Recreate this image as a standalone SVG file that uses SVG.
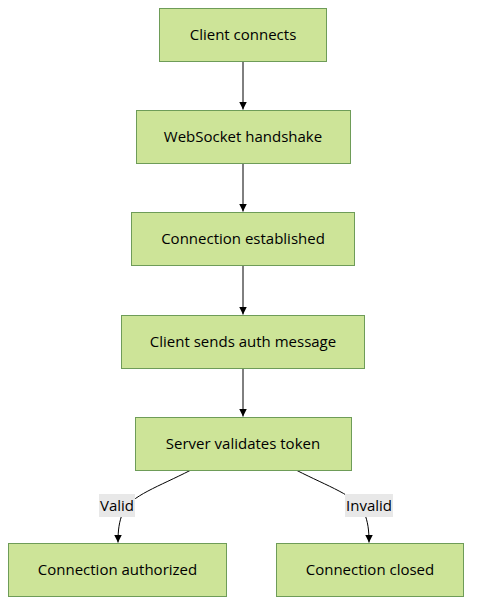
<svg xmlns="http://www.w3.org/2000/svg" width="479" height="614" viewBox="0 0 479 614">
<style>
.node rect{fill:#cde498;stroke:#6e9c58;stroke-width:1}
.node text{font-family:"Open Sans","DejaVu Sans",sans-serif;font-size:15px;fill:#000;text-anchor:middle;dominant-baseline:central}
.edge{fill:none;stroke:#000;stroke-width:1}
.lbl rect{fill:#e8e8e8}
.lbl text{font-family:"Open Sans","DejaVu Sans",sans-serif;font-size:15px;fill:#000;text-anchor:middle;dominant-baseline:central}
</style>
<defs>
<marker id="arr" viewBox="0 0 10 10" refX="10" refY="5" markerWidth="8" markerHeight="8" markerUnits="userSpaceOnUse" orient="auto">
<path d="M0,0 L10,5 L0,10 z" fill="#000"/>
</marker>
</defs>
<rect width="479" height="614" fill="#fff"/>
<g id="connectors">
<path class="edge" d="M243,61.5 L243,109.5" marker-end="url(#arr)"/>
<path class="edge" d="M243,163.5 L243,211.5" marker-end="url(#arr)"/>
<path class="edge" d="M243,265.5 L243,314.5" marker-end="url(#arr)"/>
<path class="edge" d="M243,368.5 L243,416.5" marker-end="url(#arr)"/>
<path class="edge" d="M190,470.5 C160,486 130,496 123,512 C119,522 118,530 118,542.5" marker-end="url(#arr)"/>
<path class="edge" d="M297,470.5 C327,486 357,496 364,512 C368,522 369,530 369,542.5" marker-end="url(#arr)"/>
<g class="lbl" id="label-valid"><rect x="99" y="494" width="36" height="23"/><text x="117" y="505">Valid</text></g>
<g class="lbl" id="label-invalid"><rect x="345" y="494" width="48" height="23"/><text x="369" y="505">Invalid</text></g>
</g>
<g class="node" id="n1"><rect x="159.5" y="8.5" width="167" height="53"/><text x="243" y="34">Client connects</text></g>
<g class="node" id="n2"><rect x="136.5" y="110.5" width="214" height="53"/><text x="243" y="136">WebSocket handshake</text></g>
<g class="node" id="n3"><rect x="131.5" y="212.5" width="223" height="53"/><text x="243" y="238">Connection established</text></g>
<g class="node" id="n4"><rect x="121.5" y="315.5" width="243" height="53"/><text x="243" y="341">Client sends auth message</text></g>
<g class="node" id="n5"><rect x="135.5" y="417.5" width="216" height="53"/><text x="243" y="443">Server validates token</text></g>
<g class="node" id="n6"><rect x="8.5" y="543.5" width="218" height="53"/><text x="117.5" y="569">Connection authorized</text></g>
<g class="node" id="n7"><rect x="276.5" y="543.5" width="187" height="53"/><text x="370" y="569">Connection closed</text></g>
</svg>
